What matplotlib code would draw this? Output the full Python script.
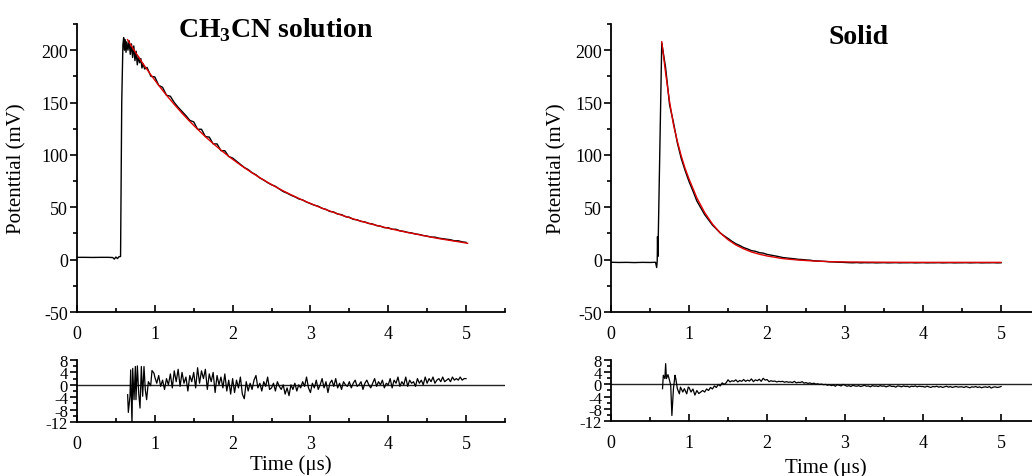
import numpy as np
import matplotlib
matplotlib.use("Agg")
from matplotlib import pyplot as plt
from matplotlib.ticker import MultipleLocator

plt.rcParams['font.family'] = ['Liberation Serif', 'DejaVu Serif']
plt.rcParams['mathtext.fontset'] = 'custom'
plt.rcParams['mathtext.rm'] = 'Liberation Serif'
plt.rcParams['mathtext.bf'] = 'Liberation Serif:bold'
plt.rcParams['axes.unicode_minus'] = False

# ---------------- CH3CN solution ----------------
# raw trace before and around the rise (time in us, potential in mV)
sol_early_t = [0.0, 0.1, 0.2, 0.3, 0.4, 0.46, 0.48, 0.5, 0.52, 0.54, 0.56,
               0.575, 0.59, 0.60, 0.61, 0.62, 0.63, 0.64, 0.655, 0.67, 0.685,
               0.70, 0.715, 0.73, 0.745, 0.76, 0.775, 0.79, 0.805, 0.82, 0.835,
               0.85, 0.87]
sol_early_v = [2.2, 2.2, 2.1, 2.2, 2.2, 2.0, 0.5, 2.5, 1.0, 2.8, 3.0,
               150, 205, 212, 200, 210, 198, 208, 200, 209, 196,
               206, 193, 204, 190, 199, 186, 194, 188, 192, 183,
               187, 182]
# raw trace 0.90 .. 5.00 every 0.05 us
sol_decay_v = [183.5, 175.0, 174.5, 166.5, 164.5, 157.0, 156.0, 150.0, 145.5, 141.5,
               137.5, 133.0, 131.5, 124.5, 124.5, 117.5, 117.0, 110.5, 110.5, 104.0,
               104.0, 98.5, 97.0, 94.0, 91.0, 88.0, 86.0, 83.0, 81.0, 78.0,
               76.0, 73.5, 71.5, 70.0, 67.5, 65.0, 63.5, 61.5, 60.0, 58.0,
               57.0, 55.0, 53.5, 52.0, 51.0, 49.0, 48.0, 46.0, 45.5, 43.5,
               43.0, 41.0, 40.5, 38.5, 38.0, 36.5, 36.0, 34.5, 34.0, 32.5,
               32.0, 30.5, 30.5, 29.0, 29.0, 27.5, 27.0, 26.0, 25.5, 24.5,
               24.0, 23.0, 22.5, 21.5, 21.5, 20.5, 20.0, 19.5, 19.0, 18.0,
               18.0, 17.0, 16.5]
# fitted curve
sol_fit_t = [0.65, 0.75, 0.85, 0.95, 1.05, 1.15, 1.25, 1.35, 1.45, 1.55, 1.65,
             1.75, 1.85, 1.95, 2.05, 2.15, 2.25, 2.35, 2.45, 2.55, 2.65, 2.75,
             2.85, 2.95, 3.05, 3.15, 3.25, 3.35, 3.45, 3.55, 3.65, 3.75, 3.85,
             3.95, 4.05, 4.15, 4.25, 4.35, 4.45, 4.55, 4.65, 4.75, 4.85, 4.95, 5.02]
sol_fit_v = [210, 198.1, 186.9, 176.4, 166.4, 157.0, 148.2, 139.8, 131.9, 124.5, 117.4,
             110.8, 104.6, 98.6, 93.1, 87.8, 82.9, 78.2, 73.8, 69.6, 65.7, 62.0,
             58.5, 55.2, 52.1, 49.1, 46.4, 43.7, 41.3, 38.9, 36.7, 34.7, 32.7,
             30.9, 29.1, 27.5, 25.9, 24.5, 23.0, 21.5, 20.1, 18.9, 17.7, 16.5, 15.6]
# residuals
sol_res_early_t = [0.651, 0.66, 0.681, 0.69, 0.707, 0.716, 0.733, 0.75, 0.758, 0.776,
                   0.793, 0.81, 0.827, 0.844, 0.861, 0.878, 0.895, 0.917, 0.947,
                   0.964, 0.99]
sol_res_early_v = [-3.2, -8.9, -3.7, 4.8, -12.8, 5.3, -4.8, 5.9, -4.8, 6.1,
                   -2.7, -7.5, 5.9, -3.7, 5.9, -1.6, -4.8, 1.0, -0.3,
                   4.6, 3.7]
# residuals 1.000 .. 5.000 every 0.025 us
sol_res_v = [2.5, 0.5, 3.0, -0.5, 1.5, -1.5, 2.0, 0.0, 3.5, -1.0, 4.5, 1.0, 5.0, -0.5, 4.0, 0.5, 2.5, -2.0, 3.0, 1.0,
             4.0, -1.0, 5.5, 0.5, 4.5, 2.0, 5.0, -1.5, 3.5, 1.0, 4.0, -2.5, 3.0, 0.0, 2.5, -1.0, 3.5, -2.0, 1.5, -3.0,
             2.0, -2.5, 1.5, -1.0, 2.5, -3.0, -4.5, 1.0, -2.0, 0.5, -1.5, 1.5, 3.0, -1.0, 0.5, -2.0, 1.0, -0.5, 2.5, -1.5,
             -1.0, 0.5, -2.0, 1.0, -0.5, -1.5, 0.0, -3.0, -1.0, -3.5, 0.0, -1.5, 0.5, -2.0, 0.0, -1.0, 1.0, -0.5, 2.5, -1.0,
             -2.5, 0.5, -1.0, 1.5, -1.5, 0.0, 2.0, -1.0, 1.0, -2.5, 0.5, 1.5, -0.5, 2.0, -1.0, 0.5, -1.5, 1.0, 0.0, -0.5,
             1.0, -1.0, 0.5, 1.5, -0.5, 0.0, 1.0, -1.5, 0.5, 1.5, 0.0, -1.0, 0.5, 2.0, -0.5, 1.0, 0.0, 1.5, -1.0, 0.5,
             0.0, 2.0, -1.0, 1.5, 0.5, 2.5, -0.5, 1.0, 0.0, 2.5, -0.5, 1.5, 0.5, 1.0, -0.5, 2.0, 0.5, 1.5, 0.0, 2.5,
             0.5, 2.0, 1.0, 2.5, 0.5, 1.5, 2.0, 1.0, 2.5, 1.0, 1.5, 2.0, 1.0, 2.5, 1.5, 2.0, 1.5, 2.5, 1.5, 2.0,
             2.0]

# ---------------- Solid ----------------
sld_early_t = [0.0, 0.1, 0.2, 0.3, 0.4, 0.5, 0.57, 0.585, 0.592, 0.596, 0.60, 0.605, 0.65]
sld_early_v = [-2.5, -2.7, -2.6, -2.8, -2.6, -2.7, -2.5, -7.5, -1.0, 22.0, 3.0, 20.0, 207]
# raw trace 0.70 .. 5.00 every 0.05 us
sld_decay_v = [183, 148, 131, 111.5, 96.5, 85, 74.5, 65.5, 56, 49.5,
               43, 38, 33, 29.3, 25.5, 22.7, 20.2, 17.5, 15.2, 13.5,
               11.5, 10.2, 8.6, 8.0, 6.7, 6.2, 5.0, 4.3, 3.6, 2.9,
               2.0, 1.6, 1.2, 0.8, 0.3, 0.1, -0.3, -0.5, -1.1, -1.3,
               -1.5, -1.7, -2.1, -2.2, -2.4, -2.5, -2.7,
               -2.9, -3.0, -2.8, -3.1, -2.9, -3.0, -2.9, -3.1, -3.0, -2.9,
               -3.1, -3.0, -2.9, -3.1, -3.0, -3.0, -2.9, -3.1, -3.0, -2.9,
               -3.1, -3.0, -3.0, -2.9, -3.1, -3.0, -2.9, -3.1, -3.0, -3.0,
               -2.9, -3.1, -3.0, -2.9, -3.1, -3.0, -3.0, -2.9, -3.1, -3.0]
sld_fit_t = [0.65, 0.70, 0.75, 0.80, 0.85, 0.90, 0.95, 1.0, 1.1, 1.2, 1.3, 1.4,
             1.5, 1.6, 1.7, 1.8, 1.9, 2.0, 2.2, 2.4, 2.6, 2.8, 3.0, 3.5, 4.0, 4.5, 5.0]
sld_fit_v = [208, 178, 151, 129, 113, 99, 87, 77, 59, 45, 34, 25.5,
             19, 14, 10.3, 7.3, 5.2, 3.5, 1.0, -0.4, -1.3, -1.9, -2.2, -2.5, -2.6, -2.6, -2.6]
sld_res_early_t = [0.66, 0.67, 0.69, 0.70, 0.71, 0.73, 0.75, 0.765, 0.78, 0.80,
                   0.82, 0.83, 0.85, 0.876, 0.89, 0.92, 0.94, 0.97, 0.99]
sld_res_early_v = [-1.4, 3.0, 1.9, 6.8, 1.9, 3.2, 1.3, -0.3, -10.2, -1.4,
                   3.0, 1.9, -1.4, -3.1, -0.9, -2.5, -1.4, -3.1, -0.9]
sld_res_v = [-1.0, -2.5, -1.5, -3.5, -2.0, -3.0, -2.5, -2.0, -2.5, -1.5, -2.0, -1.0, -1.5, -0.5, -1.0, 0.0, -0.5, 0.5, 0.0, 0.5,
             1.5, 0.8, 1.2, 1.0, 1.5, 0.8, 1.3, 1.0, 1.6, 1.0, 1.4, 1.1, 1.8, 0.9, 1.5, 1.2, 1.7, 1.0, 2.0, 1.4,
             1.6, 0.9, 1.2, 1.0, 1.1, 0.8, 1.0, 0.9, 1.0, 0.7, 0.9, 0.7, 0.8, 0.6, 1.0, 0.5, 0.7, 0.6, 0.9, 0.4,
             0.6, 0.3, 0.5, 0.2, 0.4, 0.1, 0.2, 0.0, 0.1, -0.1, 0.0, -0.3, -0.1, -0.4, -0.2, -0.6, -0.1, -0.3, -0.5, 0.0,
             -0.3, -0.6, -0.4, -0.7, -0.3, -0.5, -0.6, -0.4, -0.7, -0.5, -0.3, -0.6, -0.5, -0.8, -0.4, -0.6, -0.5, -0.7, -0.4, -0.6,
             -0.5, -0.8, -0.6, -0.4, -0.7, -0.6, -0.9, -0.5, -0.6, -0.8, -0.5, -0.7, -0.6, -0.9, -0.6, -0.7, -0.5, -0.8, -0.6, -0.7,
             -0.7, -0.9, -0.6, -0.8, -1.0, -0.7, -0.8, -0.6, -0.9, -0.7, -1.0, -0.8, -0.6, -0.9, -0.7, -1.0, -0.8, -0.7, -0.9, -0.8,
             -0.8, -1.0, -0.7, -0.9, -1.1, -0.8, -0.9, -0.7, -1.0, -0.8, -1.1, -0.9, -0.8, -1.0, -0.7, -1.2, -0.9, -0.8, -1.0, -0.9,
             -0.7]

res_grid = np.arange(1.0, 5.0001, 0.025)


def style_axis(ax, ymin, ymax, ymaj, ymin_step, fs):
    ax.set_xlim(0, 5.5)
    ax.set_ylim(ymin, ymax)
    for s in ['top', 'right']:
        ax.spines[s].set_visible(False)
    for s in ['left', 'bottom']:
        ax.spines[s].set_linewidth(1.3)
    ax.xaxis.set_major_locator(MultipleLocator(1))
    ax.xaxis.set_minor_locator(MultipleLocator(0.5))
    ax.yaxis.set_major_locator(MultipleLocator(ymaj))
    ax.yaxis.set_minor_locator(MultipleLocator(ymin_step))
    ax.tick_params(axis='x', which='both', direction='in', labelsize=13, pad=9, width=1.2)
    ax.tick_params(axis='x', which='major', length=5)
    ax.tick_params(axis='x', which='minor', length=3)
    ax.tick_params(axis='y', which='both', direction='out', labelsize=fs, pad=1.5, width=1.2)
    ax.tick_params(axis='y', which='major', length=5)
    ax.tick_params(axis='y', which='minor', length=3)


fig = plt.figure(figsize=(10.32, 4.77), dpi=100)

panels = [
    dict(left=0.0746, width=0.4147, res_bottom=0.1132, res_height=0.130,
         early_t=sol_early_t, early_v=sol_early_v, decay_start=0.90, decay_v=sol_decay_v,
         fit_t=sol_fit_t, fit_v=sol_fit_v,
         res_early_t=sol_res_early_t, res_early_v=sol_res_early_v, res_v=sol_res_v,
         title=r'CH$_\mathbf{3}$CN solution', title_xy=(2.55, 213.5),
         ylab_x=-0.117, xlab_y=-0.52),
    dict(left=0.5921, width=0.4157, res_bottom=0.1153, res_height=0.1279,
         early_t=sld_early_t, early_v=sld_early_v, decay_start=0.70, decay_v=sld_decay_v,
         fit_t=sld_fit_t, fit_v=sld_fit_v,
         res_early_t=sld_res_early_t, res_early_v=sld_res_early_v, res_v=sld_res_v,
         title='Solid', title_xy=(3.17, 207),
         ylab_x=-0.103, xlab_y=-0.59),
]

for p in panels:
    ax = fig.add_axes([p['left'], 0.3438, p['width'], 0.6038])
    style_axis(ax, -50, 225, 50, 25, 13)
    decay_t = p['decay_start'] + 0.05 * np.arange(len(p['decay_v']))
    t = np.concatenate([p['early_t'], decay_t])
    v = np.concatenate([p['early_v'], p['decay_v']])
    ax.plot(t, v, color='black', lw=1.0, zorder=2)
    ax.plot(p['fit_t'], p['fit_v'], color='#e00000', lw=1.0, zorder=3)
    ax.set_ylabel('Potenttial (mV)', fontsize=15)
    ax.yaxis.set_label_coords(p['ylab_x'], 0.5)
    ax.text(p['title_xy'][0], p['title_xy'][1], p['title'], fontsize=20,
            fontweight='bold', ha='center', va='baseline')

    axr = fig.add_axes([p['left'], p['res_bottom'], p['width'], p['res_height']])
    style_axis(axr, -12, 8, 4, 2, 12)
    axr.axhline(0, color='#222222', lw=1.0, zorder=1)
    rt = np.concatenate([p['res_early_t'], res_grid])
    rv = np.concatenate([p['res_early_v'], p['res_v']])
    axr.plot(rt, rv, color='black', lw=0.9, zorder=2)
    axr.set_xlabel('Time (\u03bcs)', fontsize=15)
    axr.xaxis.set_label_coords(0.5, p['xlab_y'])

fig.savefig('out.png', dpi=100)
